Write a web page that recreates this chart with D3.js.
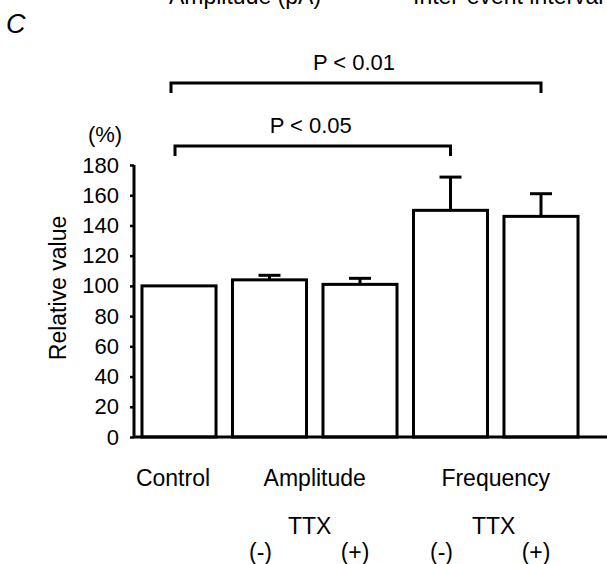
<!DOCTYPE html>
<html>
<head>
<meta charset="utf-8">
<script src="https://cdn.jsdelivr.net/npm/d3@7"></script>
<style>
  body { margin: 0; background: #fff; }
  svg { display: block; font-family: "Liberation Sans", Arial, sans-serif; }
</style>
</head>
<body>
<svg id="chart" width="607" height="564"></svg>
<script>
// bar keys, values (%) and SEM from the figure
var keys = ['ctrl', 'ampNeg', 'ampPos', 'freqNeg', 'freqPos'];
var values = [100, 104, 101, 150, 146];
var errors = [0, 3, 4, 22, 15];
var yTicks = [0, 20, 40, 60, 80, 100, 120, 140, 160, 180];
var groupLabels = ['Control', 'Amplitude', 'Frequency'];
var signLabels = ['(-)', '(+)', '(-)', '(+)'];
// significance brackets: from bar, to bar, label, level in axis units
var brackets = [
    { from: 0, to: 4, text: 'P < 0.01', level: 234.3, shift: -8 },
    { from: 0, to: 3, text: 'P < 0.05', level: 192.6, shift: -4 }
];

var svg = d3.select('#chart');

var x = d3.scaleBand()
    .domain(keys)
    .range([133.75, 586.25])
    .paddingInner(0.182)
    .paddingOuter(0.091);

var y = d3.scaleLinear().domain([0, 180]).range([437, 165]);

/* cut-off titles from the panel above */
svg.append('text').attr('x', 245).attr('y', 4).attr('text-anchor', 'middle')
    .attr('font-size', 23).text('Amplitude (pA)');
svg.append('text').attr('x', 413).attr('y', 4)
    .attr('font-size', 23).text('Inter-event interval');

svg.append('text').attr('x', 6).attr('y', 33)
    .attr('font-size', 27).attr('font-style', 'italic').text('C');

/* y axis */
var yAxis = svg.append('g')
    .attr('transform', 'translate(134,0)')
    .call(d3.axisLeft(y).tickValues(yTicks).tickSize(4).tickPadding(11));
yAxis.select('.domain').attr('stroke-width', 3).attr('d', 'M0,' + y(180) + 'V' + y(0));
yAxis.selectAll('.tick line').attr('stroke-width', 2.5);
yAxis.selectAll('.tick text').attr('font-size', 22).attr('fill', '#000')
    .attr('font-family', '"Liberation Sans", Arial, sans-serif');

svg.append('text').attr('x', 105).attr('y', 142).attr('text-anchor', 'middle')
    .attr('font-size', 22).text('(%)');
svg.append('text')
    .attr('transform', 'translate(66,' + 288 + ') rotate(-90)')
    .attr('text-anchor', 'middle').attr('font-size', 23).text('Relative value');

/* bars */
svg.selectAll('rect.bar')
    .data(values)
    .enter().append('rect')
    .attr('class', 'bar')
    .attr('x', (d, i) => x(keys[i]))
    .attr('y', d => y(d))
    .attr('width', x.bandwidth())
    .attr('height', d => y(0) - y(d))
    .attr('fill', '#fff')
    .attr('stroke', '#000')
    .attr('stroke-width', 3);

/* error bars */
var err = svg.selectAll('g.err')
    .data(values.map((v, i) => ({ v: v, e: errors[i], k: keys[i] })).filter(d => d.e > 0))
    .enter().append('g').attr('class', 'err');
err.append('line')
    .attr('x1', d => x(d.k) + x.bandwidth() / 2)
    .attr('x2', d => x(d.k) + x.bandwidth() / 2)
    .attr('y1', d => y(d.v))
    .attr('y2', d => y(d.v + d.e))
    .attr('stroke', '#000').attr('stroke-width', 3);
err.append('line')
    .attr('x1', d => x(d.k) + x.bandwidth() / 2 - 11)
    .attr('x2', d => x(d.k) + x.bandwidth() / 2 + 11)
    .attr('y1', d => y(d.v + d.e))
    .attr('y2', d => y(d.v + d.e))
    .attr('stroke', '#000').attr('stroke-width', 3);

/* baseline */
svg.append('line')
    .attr('x1', 133).attr('x2', 607)
    .attr('y1', y(0)).attr('y2', y(0))
    .attr('stroke', '#000').attr('stroke-width', 3);

/* brackets */
brackets.forEach(function(b) {
    var x1 = x(keys[b.from]) + x.bandwidth() / 2 + b.shift;
    var x2 = x(keys[b.to]) + x.bandwidth() / 2;
    var top = y(b.level);
    svg.append('path')
        .attr('d', 'M' + x1 + ',' + (top + 10) + 'V' + top + 'H' + x2 + 'V' + (top + 10))
        .attr('fill', 'none').attr('stroke', '#000').attr('stroke-width', 3);
    svg.append('text')
        .attr('x', (x1 + x2) / 2 - 2)
        .attr('y', top - 13)
        .attr('text-anchor', 'middle').attr('font-size', 22).text(b.text);
});

/* category labels */
var groupX = [
    x(keys[0]) + x.bandwidth() / 2 - 6,
    (x(keys[1]) + x(keys[2]) + x.bandwidth()) / 2,
    (x(keys[3]) + x(keys[4]) + x.bandwidth()) / 2
];
svg.selectAll('text.group')
    .data(groupLabels)
    .enter().append('text').attr('class', 'group')
    .attr('x', (d, i) => groupX[i])
    .attr('y', 486)
    .attr('text-anchor', 'middle').attr('font-size', 23).text(d => d);

svg.selectAll('text.ttx')
    .data([groupX[1] - 5, groupX[2] - 2])
    .enter().append('text').attr('class', 'ttx')
    .attr('x', d => d).attr('y', 534)
    .attr('text-anchor', 'middle').attr('font-size', 23).text('TTX');

svg.selectAll('text.sign')
    .data(signLabels)
    .enter().append('text').attr('class', 'sign')
    .attr('x', (d, i) => x(keys[i + 1]) + x.bandwidth() / 2 - (i % 2 ? 5 : 9))
    .attr('y', 560)
    .attr('text-anchor', 'middle').attr('font-size', 23).text(d => d);
</script>
</body>
</html>
